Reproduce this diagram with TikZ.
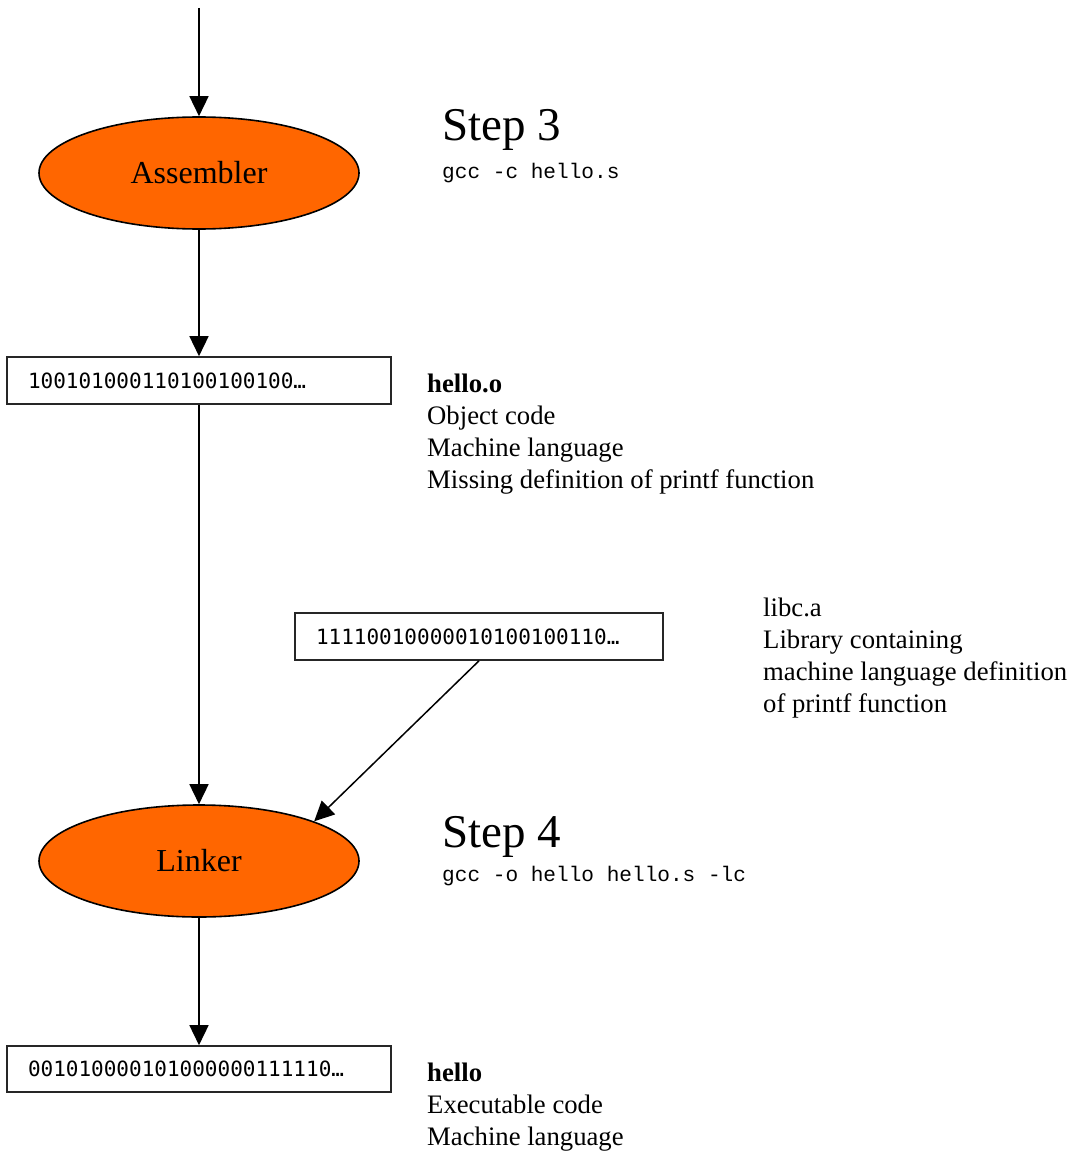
\documentclass[tikz,border=0pt]{standalone}
\usepackage{fontspec}
\setmainfont{Liberation Serif}
\newfontfamily\boxfont{DejaVu Sans Mono}
\newfontfamily\cmdfont{Liberation Mono}
\usetikzlibrary{shapes.geometric,arrows.meta}
\definecolor{stageorange}{HTML}{FF6600}
\tikzset{
  stage/.style={ellipse, draw=black, line width=1.6pt, fill=stageorange, minimum width=320pt, minimum height=112pt, inner sep=0pt, font=\fontsize{32}{36}\selectfont},
  databox/.style={rectangle, draw=black!85, line width=1.6pt, fill=white, minimum height=47pt, inner xsep=21pt, inner ysep=0pt, align=left, font=\boxfont\fontsize{21}{24}\selectfont},
  flow/.style={line width=1.5pt, -{Triangle[length=20pt,width=19pt]}},
  steplabel/.style={anchor=base west, inner sep=0pt, font=\fontsize{47}{52}\selectfont},
  cmdlabel/.style={anchor=base west, inner sep=0pt, font=\cmdfont\fontsize{21.1}{24}\selectfont},
  desc/.style={anchor=base west, inner sep=0pt, font=\fontsize{26.7}{32}\selectfont}
}
\newcommand{\desclines}[1]{\begin{tabular}[t]{@{}l@{}}#1\end{tabular}}
\begin{document}
\begin{tikzpicture}[x=1pt,y=-1pt]
\useasboundingbox (0,0) rectangle (1078,1153);
% nodes
\coordinate (top) at (199,8);
\node[stage] (asm) at (199,173) {Assembler};
\node[databox, text width=342pt] (obj) at (199,380.5) {100101000110100100100…};
\node[databox, text width=326pt] (lib) at (479,636.5) {11110010000010100100110…};
\node[stage] (link) at (199,861) {Linker};
\node[databox, text width=342pt, minimum height=46pt] (exe) at (199,1069) {001010000101000000111110…};
% labels
\node[steplabel] (s3) at (442,140) {Step 3};
\node[cmdlabel] (c3) at (442,178) {gcc -c hello.s};
\node[steplabel] (s4) at (442,847) {Step 4};
\node[cmdlabel] (c4) at (442,881) {gcc -o hello hello.s -lc};
\node[desc] (objtxt) at (427,392) {\desclines{\textbf{hello.o}\\Object code\\Machine language\\Missing definition of printf function}};
\node[desc] (libtxt) at (763,616) {\desclines{libc.a\\Library containing\\machine language definition\\of printf function}};
\node[desc] (exetxt) at (427,1081) {\desclines{\textbf{hello}\\Executable code\\Machine language}};
% connectors
\draw[flow] (top) -- (asm.north);
\draw[flow] (asm.south) -- (obj.north);
\draw[flow] (obj.south) -- (link.north);
\draw[flow] (lib.south) -- (link.19);
\draw[flow] (link.south) -- (exe.north);
\end{tikzpicture}
\end{document}
